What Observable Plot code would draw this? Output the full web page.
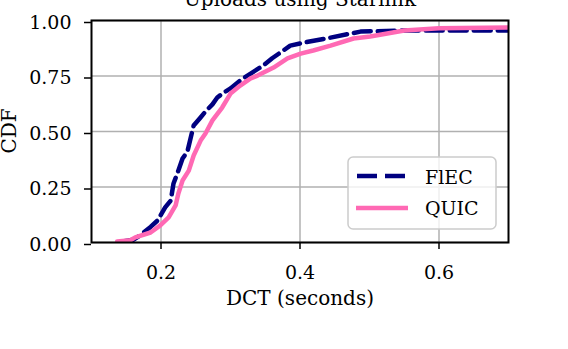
<!DOCTYPE html>
<html>
<head>
<meta charset="utf-8">
<script src="https://cdn.jsdelivr.net/npm/d3@7"></script>
<script src="https://cdn.jsdelivr.net/npm/@observablehq/plot@0.6"></script>
<style>
  html, body { margin: 0; padding: 0; background: #fff; }
</style>
</head>
<body>
<div id="chart"></div>
<script>
const title = "Uploads using Starlink";
const xLabel = "DCT (seconds)";
const yLabel = "CDF";
const seriesNames = ["FlEC", "QUIC"];
const xTicks = [0.2, 0.4, 0.6];
const yTicks = [0, 0.25, 0.5, 0.75, 1];

const flecX = [0.145,0.16,0.170,0.185,0.195,0.206,0.214,0.218,0.224,0.231,0.238,0.247,0.256,0.264,0.274,0.281,0.290,0.300,0.314,0.329,0.347,0.360,0.372,0.386,0.405,0.444,0.487,0.545,0.7];
const flecY = [0.005,0.012,0.032,0.07,0.099,0.158,0.189,0.266,0.315,0.378,0.41,0.527,0.56,0.59,0.622,0.653,0.675,0.694,0.730,0.761,0.797,0.83,0.856,0.887,0.90,0.923,0.950,0.955,0.955];

const quicX = [0.137,0.156,0.163,0.185,0.199,0.211,0.221,0.225,0.231,0.240,0.247,0.257,0.264,0.274,0.288,0.300,0.314,0.329,0.339,0.362,0.382,0.401,0.419,0.444,0.477,0.501,0.55,0.6,0.7];
const quicY = [0.005,0.01,0.023,0.045,0.077,0.113,0.167,0.221,0.279,0.324,0.392,0.459,0.491,0.550,0.608,0.671,0.707,0.739,0.752,0.788,0.829,0.851,0.865,0.887,0.919,0.928,0.955,0.965,0.968];

const flec = flecX.map((x, i) => ({x, y: flecY[i]}));
const quic = quicX.map((x, i) => ({x, y: quicY[i]}));

const font = "DejaVu Serif";
const chart = Plot.plot({
  width: 568,
  height: 349,
  marginLeft: 91,
  marginRight: 60,
  marginTop: 20,
  marginBottom: 107,
  style: {fontFamily: font, fontSize: "19px", color: "#000", background: "#fff"},
  x: {domain: [0.1, 0.7]},
  y: {domain: [0, 1]},
  marks: [
    Plot.gridX(xTicks, {stroke: "#b0b0b0", strokeOpacity: 1, strokeWidth: 1.5}),
    Plot.gridY(yTicks, {stroke: "#b0b0b0", strokeOpacity: 1, strokeWidth: 1.5}),
    Plot.line(flec, {x: "x", y: "y", stroke: "#000080", strokeWidth: 4.5, strokeDasharray: "17,7", clip: true}),
    Plot.line(quic, {x: "x", y: "y", stroke: "#ff69b4", strokeWidth: 4.5, clip: true}),
    Plot.frame({stroke: "#000", strokeWidth: 2}),
    Plot.axisX(xTicks, {tickSize: 7, tickPadding: 16, strokeWidth: 1.5, tickFormat: d3.format(".1f"), label: null}),
    Plot.axisY(yTicks, {tickSize: 7, tickPadding: 13, strokeWidth: 1.5, tickFormat: d3.format(".2f"), label: null, dy: 2})
  ]
});
document.getElementById("chart").appendChild(chart);

const svg = d3.select(chart);
svg.append("text").attr("x", 300).attr("y", 6).attr("text-anchor", "middle")
  .attr("font-size", 20).attr("fill", "#000").text(title);
svg.append("text").attr("x", 300).attr("y", 305).attr("text-anchor", "middle")
  .attr("font-size", 20).attr("fill", "#000").text(xLabel);
svg.append("text").attr("transform", "translate(16,131) rotate(-90)").attr("text-anchor", "middle")
  .attr("font-size", 20).attr("fill", "#000").text(yLabel);

const lg = svg.append("g");
lg.append("rect").attr("x", 348).attr("y", 157).attr("width", 148).attr("height", 72).attr("rx", 5)
  .attr("fill", "#fff").attr("fill-opacity", 0.8).attr("stroke", "#cccccc").attr("stroke-width", 1.5);
lg.append("line").attr("x1", 357).attr("x2", 405).attr("y1", 176).attr("y2", 176)
  .attr("stroke", "#000080").attr("stroke-width", 4.5).attr("stroke-dasharray", "20,8");
lg.append("line").attr("x1", 356).attr("x2", 408).attr("y1", 208).attr("y2", 208)
  .attr("stroke", "#ff69b4").attr("stroke-width", 4.5);
lg.append("text").attr("x", 425).attr("y", 184).attr("text-anchor", "start").attr("font-size", 19).attr("fill", "#000").text(seriesNames[0]);
lg.append("text").attr("x", 425).attr("y", 215).attr("text-anchor", "start").attr("font-size", 19).attr("fill", "#000").text(seriesNames[1]);
</script>
</body>
</html>
